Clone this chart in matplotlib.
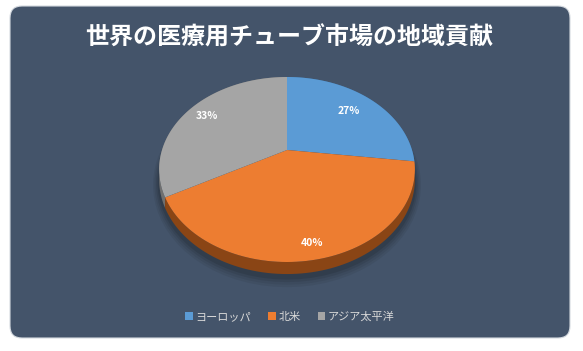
import math
import matplotlib
matplotlib.use("Agg")
import matplotlib.pyplot as plt
from matplotlib.patches import FancyBboxPatch, Polygon, Patch

plt.rcParams['font.family'] = ['Noto Sans CJK JP', 'DejaVu Sans']

# ---- データ ----
title = "世界の医療用チューブ市場の地域貢献"
regions = ["ヨーロッパ", "北米", "アジア太平洋"]
shares = [27, 40, 33]
colors = ["#5B9BD5", "#ED7D31", "#A5A5A5"]
wall_colors = ["#3d6f9e", "#8a4515", "#6f6f6f"]
label_r = [0.73, 0.88, 0.81]

# ---- 3D円グラフの形 ----
CX, CY = 287, 150
RX, RY = 125, 88.4
K = 0.2108      # 遠近感
DEPTH = 9.5

def proj(ang, r=1.0, z=0.0):
    a = math.radians(ang)
    u = r * math.cos(a)
    v = r * math.sin(a)
    s = 1.0 / (1.0 + K * v)
    return CX + u * s * RX, CY - v * s * RY + z * s * DEPTH

def arc(a0, a1, z=0.0, n=80):
    return [proj(a0 + (a1 - a0) * i / n, 1.0, z) for i in range(n + 1)]

fig = plt.figure(figsize=(5.83, 3.51), dpi=100)
fig.patch.set_facecolor("white")
ax = fig.add_axes([0, 0, 1, 1])
ax.set_xlim(0, 583)
ax.set_ylim(351, 0)
ax.axis("off")

bg = FancyBboxPatch((10, 6), 560, 332, boxstyle="round,pad=0,rounding_size=12",
                    facecolor="#44546A", edgecolor="#d5dae0", lw=0.8)
ax.add_patch(bg)

ax.text(289, 38, title, color="white", fontsize=17.3, fontweight="bold",
        ha="center", va="center")

# 角度（12時から時計回り）
total = sum(shares)
slices = []
start = 90.0
for i, v in enumerate(shares):
    end = start - v / total * 360.0
    slices.append((start, end))
    start = end

# 影
for j, a in enumerate([0.06, 0.06, 0.08, 0.1]):
    grow = 4 - j
    pts = [(x, y + 3) for x, y in arc(0, -360, 1.0)]
    pts = [(CX + (x - CX) * (1 + grow * 0.012), CY + (y - CY) * (1 + grow * 0.02)) for x, y in pts]
    ax.add_patch(Polygon(pts, closed=True, facecolor="black", alpha=a, lw=0))

# 側面（奥から）
order = sorted(range(len(slices)),
               key=lambda i: -math.sin(math.radians((slices[i][0] + slices[i][1]) / 2)))
for i in order:
    a0, a1 = slices[i]
    pts = arc(a0, a1, 0.0) + arc(a1, a0, 1.0)
    ax.add_patch(Polygon(pts, closed=True, facecolor=wall_colors[i], lw=0))

# 上面
for i, (a0, a1) in enumerate(slices):
    pts = [proj(0, 0.0)] + arc(a0, a1, 0.0)
    ax.add_patch(Polygon(pts, closed=True, facecolor=colors[i], lw=0))

# ラベル
for i, (a0, a1) in enumerate(slices):
    x, y = proj((a0 + a1) / 2, label_r[i])
    ax.text(x, y, f"{shares[i]}%", color="white", fontsize=7.5, fontweight="bold",
            ha="center", va="center")

handles = [Patch(facecolor=c, edgecolor="none") for c in colors]
fig.legend(handles, regions, loc="center", bbox_to_anchor=(290 / 583, 1 - 317 / 351),
           ncol=3, frameon=False, handlelength=0.7, handleheight=0.7,
           handletextpad=0.25, columnspacing=1.5, fontsize=8, labelcolor="#d9d9d9")

fig.savefig("out.png", dpi=100, facecolor=fig.get_facecolor())
